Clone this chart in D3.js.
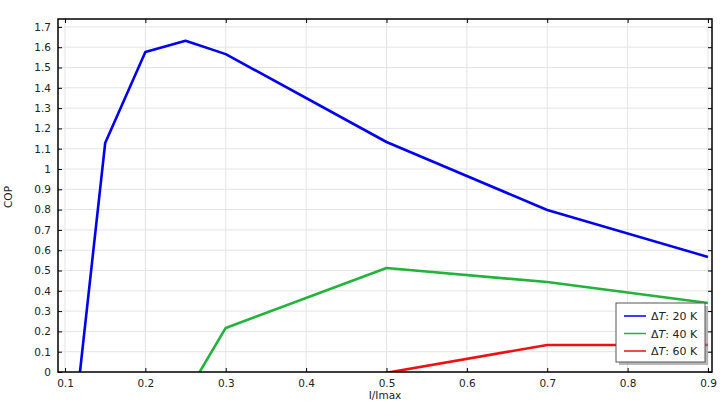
<!DOCTYPE html>
<html><head><meta charset="utf-8">
<script src="https://cdn.jsdelivr.net/npm/d3@7"></script>
<style>body{margin:0;background:#fff}svg{display:block;font-family:"DejaVu Sans",sans-serif}</style>
</head><body><svg id="c" width="720" height="405"></svg>
<script>
const xValues20 = [0.1, 0.15, 0.2, 0.25, 0.3, 0.5, 0.7, 0.9];
const cop20 = [-0.67, 1.128, 1.576, 1.632, 1.566, 1.133, 0.798, 0.567];
const xValues40 = [0.25, 0.3, 0.5, 0.7, 0.9];
const cop40 = [-0.117, 0.217, 0.512, 0.443, 0.34];
const xValues60 = [0.5, 0.7, 0.9];
const cop60 = [-0.004, 0.133, 0.133];
const seriesNames = ["20 K", "40 K", "60 K"];
const seriesColors = ["#0000ee", "#22b33a", "#ee1111"];
const xTicks = [0.1,0.2,0.3,0.4,0.5,0.6,0.7,0.8,0.9];
const yTicks = [0,0.1,0.2,0.3,0.4,0.5,0.6,0.7,0.8,0.9,1,1.1,1.2,1.3,1.4,1.5,1.6,1.7];

const svg = d3.select("#c");
const L=58, R=712, T=19, B=372;
const x = d3.scaleLinear().domain([0.0913, 0.905]).range([L, R]);
const y = d3.scaleLinear().domain([0, 1.739]).range([B, T]);

// grid
const g = svg.append("g");
g.selectAll(".gx").data(xTicks).join("line").attr("x1",d=>x(d)).attr("x2",d=>x(d)).attr("y1",T).attr("y2",B).attr("stroke","#e4e4e4").attr("stroke-width",1);
g.selectAll(".gy").data(yTicks).join("line").attr("x1",L).attr("x2",R).attr("y1",d=>y(d)).attr("y2",d=>y(d)).attr("stroke","#e4e4e4").attr("stroke-width",1);

// clip
svg.append("clipPath").attr("id","clip").append("rect").attr("x",L).attr("y",T).attr("width",R-L).attr("height",B-T);

const series = [[xValues20,cop20],[xValues40,cop40],[xValues60,cop60]];
const line = d3.line().x(d=>x(d[0])).y(d=>y(d[1]));
series.forEach((s,i)=>{
  const pts = s[0].map((v,j)=>[v,s[1][j]]);
  svg.append("path").attr("d",line(pts)).attr("fill","none").attr("stroke",seriesColors[i]).attr("stroke-width",2.6).attr("stroke-linejoin","round").attr("clip-path","url(#clip)");
});

// axes
const fmt = d=>d3.format("~g")(d);
const ax = svg.append("g").attr("transform",`translate(0,${B})`).call(d3.axisBottom(x).tickValues(xTicks).tickSize(-4).tickPadding(8).tickFormat(fmt));
const ay = svg.append("g").attr("transform",`translate(${L},0)`).call(d3.axisLeft(y).tickValues(yTicks).tickSize(-4).tickPadding(7).tickFormat(fmt));
const axT = svg.append("g").attr("transform",`translate(0,${T})`).call(d3.axisTop(x).tickValues(xTicks).tickSize(-4).tickFormat(""));
const ayR = svg.append("g").attr("transform",`translate(${R},0)`).call(d3.axisRight(y).tickValues(yTicks).tickSize(-4).tickFormat(""));
[ax,ay,axT,ayR].forEach(a=>{
  a.select(".domain").remove();
  a.selectAll("line").attr("stroke","#000").attr("stroke-width",1);
  a.selectAll("text").attr("font-size",10.5).attr("fill","#222").attr("font-family","DejaVu Sans, sans-serif");
});
svg.append("rect").attr("x",L).attr("y",T).attr("width",R-L).attr("height",B-T).attr("fill","none").attr("stroke","#000").attr("stroke-width",1.5);

svg.append("text").attr("x",(L+R)/2).attr("y",399).attr("text-anchor","middle").attr("font-size",10.5).attr("fill","#222").text("I/Imax");
svg.append("text").attr("transform","translate(12,197) rotate(-90)").attr("text-anchor","middle").attr("font-size",10.5).attr("fill","#222").text("COP");

// legend
const lx=616, ly=303, lw=89, lh=59;
svg.append("rect").attr("x",lx+3).attr("y",ly+3).attr("width",lw).attr("height",lh).attr("fill","#888").attr("opacity",0.6);
svg.append("rect").attr("x",lx).attr("y",ly).attr("width",lw).attr("height",lh).attr("fill","#fff").attr("stroke","#555").attr("stroke-width",1);
seriesNames.forEach((n,i)=>{
  const yy = ly+13+i*17.5;
  svg.append("line").attr("x1",lx+8).attr("x2",lx+30).attr("y1",yy).attr("y2",yy).attr("stroke",seriesColors[i]).attr("stroke-width",1.5);
  const t = svg.append("text").attr("x",lx+35).attr("y",yy+4).attr("font-size",11).attr("fill","#222");
  t.append("tspan").text("Δ");
  t.append("tspan").attr("font-style","italic").text("T");
  t.append("tspan").text(": "+n);
});
</script></body></html>
